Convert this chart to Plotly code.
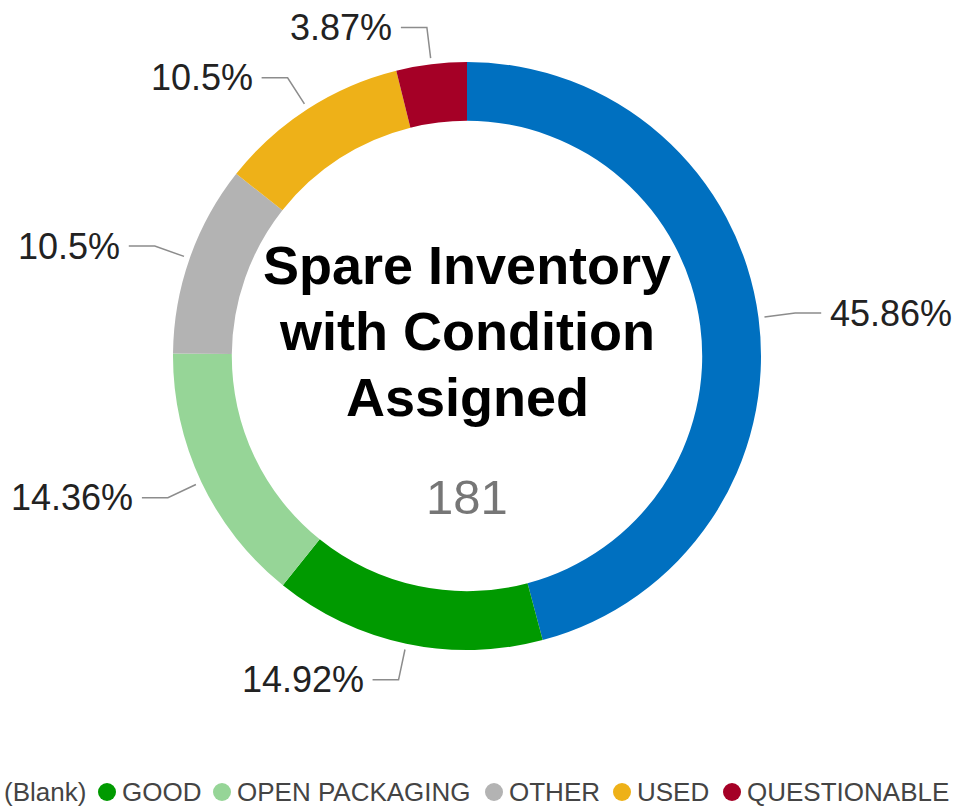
import math
import plotly.graph_objects as go

# Inventory split by assigned condition
CATEGORIES = ["(Blank)", "GOOD", "OPEN PACKAGING", "OTHER", "USED", "QUESTIONABLE"]
COUNTS = [83, 27, 26, 19, 19, 7]
COLORS = ["#0070C0", "#009A00", "#96D597", "#B3B3B3", "#EEB118", "#A50026"]
TITLE_LINES = ["Spare Inventory", "with Condition", "Assigned"]

FONT = "Arial, Liberation Sans, sans-serif"
W, H = 958, 808
L, T, SIDE = 173, 62, 588          # square plot area that holds the ring
total = sum(COUNTS)


def px_x(x):
    return (x - L) / SIDE


def px_y(y):
    return (T + SIDE - y) / SIDE


fig = go.Figure(
    go.Pie(
        labels=CATEGORIES,
        values=COUNTS,
        hole=0.8,
        sort=False,
        direction="clockwise",
        rotation=0,
        marker=dict(colors=COLORS, line=dict(width=0)),
        textinfo="none",
        showlegend=False,
        domain=dict(x=[0, 1], y=[0, 1]),
    )
)

shapes = []
annotations = []

# leader lines and percentage labels, placed from each slice's mid angle
r1, r2 = 300 / SIDE, 331 / SIDE
run, gap = 26 / SIDE, 7 / SIDE
cum = 0
for value in COUNTS:
    frac = (cum + value / 2) / total
    cum += value
    theta = 2 * math.pi * frac
    s, c = math.sin(theta), math.cos(theta)
    side = 1 if s > 0 else -1
    x1, y1 = 0.5 + r1 * s, 0.5 + r1 * c
    x2, y2 = 0.5 + r2 * s, 0.5 + r2 * c
    x3 = x2 + side * run
    shapes.append(dict(
        type="path", xref="paper", yref="paper",
        path=f"M {x1},{y1} L {x2},{y2} L {x3},{y2}",
        line=dict(color="#8C8C8C", width=1.5),
    ))
    pct = round(100 * value / total, 2)
    annotations.append(dict(
        x=x3 + side * gap, y=y2, xref="paper", yref="paper",
        text=f"{pct:g}%", showarrow=False,
        xanchor="left" if side > 0 else "right", yanchor="middle",
        font=dict(family=FONT, size=36, color="#222222"),
    ))

# centre title and total
for i, line in enumerate(TITLE_LINES):
    annotations.append(dict(
        x=0.5, y=px_y(265 + 66 * i), xref="paper", yref="paper",
        text=f"<b>{line}</b>", showarrow=False,
        xanchor="center", yanchor="middle",
        font=dict(family=FONT, size=54, color="#000000"),
    ))
annotations.append(dict(
    x=0.5, y=px_y(497), xref="paper", yref="paper",
    text=str(total), showarrow=False, xanchor="center", yanchor="middle",
    font=dict(family=FONT, size=49, color="#767676"),
))

# legend row along the bottom
LEGEND_MARKER_PX = [-11, 107, 222, 494, 622, 732]
legend_y = px_y(792)
rad = 9 / SIDE
for name, color, mx in zip(CATEGORIES, COLORS, LEGEND_MARKER_PX):
    cx = px_x(mx)
    shapes.append(dict(
        type="circle", xref="paper", yref="paper",
        x0=cx - rad, x1=cx + rad, y0=legend_y - rad, y1=legend_y + rad,
        fillcolor=color, line=dict(width=0),
    ))
    annotations.append(dict(
        x=px_x(mx + 13), y=legend_y, xref="paper", yref="paper",
        text=name, showarrow=False, xanchor="left", yanchor="middle",
        font=dict(family=FONT, size=26, color="#444444"),
    ))

fig.update_layout(
    width=W, height=H,
    margin=dict(l=L, t=T, r=W - L - SIDE, b=H - T - SIDE, autoexpand=False),
    paper_bgcolor="white", plot_bgcolor="white",
    shapes=shapes, annotations=annotations,
)

fig.write_html("out.html")
